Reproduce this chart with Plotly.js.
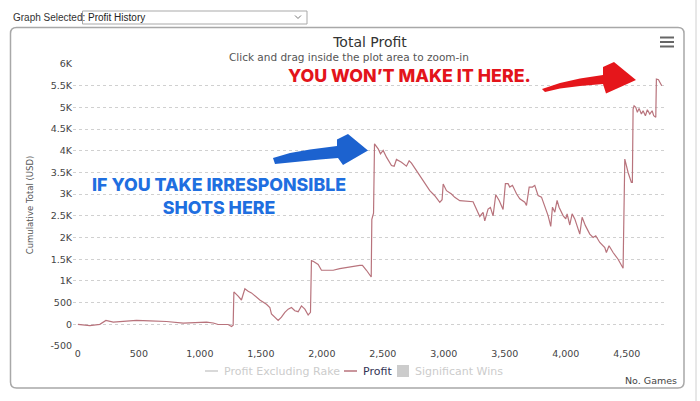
<!DOCTYPE html>
<html>
<head>
<meta charset="utf-8">
<script src="https://cdn.plot.ly/plotly-3.0.1.min.js"></script>
<style>
  html, body { margin: 0; padding: 0; background: #ffffff; }
  #chart { width: 700px; height: 401px; }
</style>
</head>
<body>
<div id="chart"></div>
<script>
// ---------- data ----------
const games = [0, 98, 180, 230, 290, 480, 590, 727, 864, 945, 1055, 1110, 1150, 1232, 1260, 1273,
  1279, 1314, 1341, 1369, 1396, 1423, 1451, 1492, 1546, 1574, 1587, 1615, 1642, 1669, 1697, 1724,
  1751, 1779, 1806, 1833, 1861, 1888, 1907, 1915, 1929, 1970, 1997, 2093, 2147, 2311, 2333, 2366,
  2399, 2405, 2410, 2418, 2424, 2432, 2462, 2481, 2503, 2530, 2571, 2593, 2612, 2653, 2680, 2694,
  2716, 2735, 2776, 2830, 2885, 2926, 2967, 2986, 2995, 3022, 3063, 3090, 3131, 3240, 3281, 3295,
  3322, 3336, 3363, 3382, 3404, 3426, 3454, 3486, 3505, 3527, 3541, 3563, 3596, 3623, 3664, 3678,
  3700, 3727, 3746, 3773, 3801, 3828, 3855, 3877, 3891, 3910, 3929, 3945, 3978, 4000, 4011, 4033,
  4052, 4074, 4115, 4134, 4161, 4197, 4224, 4246, 4279, 4320, 4333, 4355, 4388, 4429, 4470, 4484,
  4511, 4538, 4546, 4552, 4560, 4574, 4587, 4601, 4620, 4634, 4653, 4669, 4689, 4708, 4721, 4738,
  4743, 4760, 4771, 4787];
const profit = [0, -30, 0, 90, 50, 90, 80, 65, 25, 40, 50, 30, -5, -5, -50, -20,
  746, 650, 560, 820, 760, 724, 650, 560, 463, 388, 239, 164, 90, 164, 276, 350,
  388, 313, 291, 425, 350, 216, 276, 1470, 1455, 1380, 1246, 1246, 1284, 1358, 1358, 1246,
  1097, 1090, 2420, 2480, 2560, 4160, 4046, 3930, 4008, 3853, 3660, 3645, 3800, 3737, 3675, 3645,
  3768, 3714, 3544, 3312, 3080, 2964, 2810, 2872, 3235, 3080, 3003, 2926, 2849, 2825, 2578, 2485,
  2578, 2385, 2655, 2694, 2500, 2986, 2854, 2646, 3242, 3242, 3164, 3203, 3009, 2893, 2816, 2738,
  3164, 3164, 3203, 2970, 2932, 2738, 2506, 2258, 2700, 2584, 2854, 2700, 2506, 2429, 2545, 2289,
  2545, 2429, 2080, 2467, 2274, 2080, 2003, 2042, 1887, 1770, 1655, 1810, 1655, 1500, 1291, 3808,
  3500, 3269, 3269, 4962, 5038, 5000, 4885, 4977, 4846, 4923, 4808, 4946, 4846, 4923, 4808, 4770,
  5654, 5638, 5577, 5500];

const xTickVals = [0, 500, 1000, 1500, 2000, 2500, 3000, 3500, 4000, 4500];
const xTickText = ["0", "500", "1,000", "1,500", "2,000", "2,500", "3,000", "3,500", "4,000", "4,500"];
const yTickVals = [-500, 0, 500, 1000, 1500, 2000, 2500, 3000, 3500, 4000, 4500, 5000, 5500, 6000];
const yTickText = ["-500", "0", "500", "1K", "1.5K", "2K", "2.5K", "3K", "3.5K", "4K", "4.5K", "5K", "5.5K", "6K"];

const legendNames = ["Profit Excluding Rake", "Profit", "Significant Wins"];

// ---------- layout helpers (pixel -> paper) ----------
const L = 73, R = 667, T = 64, B = 346;
const fx = p => (p - L) / (R - L);
const fy = p => (B - p) / (B - T);
function poly(pts) {
  return 'M' + pts.map(p => fx(p[0]).toFixed(5) + ',' + fy(p[1]).toFixed(5)).join(' L') + ' Z';
}
function pathOpen(pts) {
  return 'M' + pts.map(p => fx(p[0]).toFixed(5) + ',' + fy(p[1]).toFixed(5)).join(' L');
}
function roundRect(x0, y0, x1, y1, r) {
  const P = (x, y) => fx(x).toFixed(5) + ',' + fy(y).toFixed(5);
  return 'M' + P(x0 + r, y0) + ' L' + P(x1 - r, y0) + ' Q' + P(x1, y0) + ' ' + P(x1, y0 + r) +
    ' L' + P(x1, y1 - r) + ' Q' + P(x1, y1) + ' ' + P(x1 - r, y1) +
    ' L' + P(x0 + r, y1) + ' Q' + P(x0, y1) + ' ' + P(x0, y1 - r) +
    ' L' + P(x0, y0 + r) + ' Q' + P(x0, y0) + ' ' + P(x0 + r, y0) + ' Z';
}

const lineColor = '#b8737c';

const shapes = [
  {type: 'path', xref: 'paper', yref: 'paper', path: roundRect(10.5, 27.5, 684, 388, 6),
   line: {color: '#a8a8a8', width: 1.5}, layer: 'below'},
  {type: 'line', xref: 'paper', yref: 'paper', x0: fx(696), x1: fx(696), y0: fy(0), y1: fy(401),
   line: {color: '#d0d0d0', width: 1}},
  {type: 'rect', xref: 'paper', yref: 'paper', x0: fx(82.5), x1: fx(307), y0: fy(11), y1: fy(24),
   line: {color: '#a9a9a9', width: 1}, fillcolor: '#ffffff'},
  {type: 'path', xref: 'paper', yref: 'paper', path: pathOpen([[295, 15.5], [298, 18.5], [301, 15.5]]),
   line: {color: '#777', width: 1}},
  {type: 'line', xref: 'paper', yref: 'paper', x0: fx(660), x1: fx(674), y0: fy(37.5), y1: fy(37.5), line: {color: '#666', width: 2}},
  {type: 'line', xref: 'paper', yref: 'paper', x0: fx(660), x1: fx(674), y0: fy(42), y1: fy(42), line: {color: '#666', width: 2}},
  {type: 'line', xref: 'paper', yref: 'paper', x0: fx(660), x1: fx(674), y0: fy(46.5), y1: fy(46.5), line: {color: '#666', width: 2}},
  {type: 'path', xref: 'paper', yref: 'paper',
   path: poly([[273, 158], [290, 153], [310, 149.5], [337, 146], [337, 139.5], [348, 134], [368, 150.5],
               [343, 165], [338, 158], [320, 159.5], [300, 161.5], [285, 163], [275, 164]]),
   fillcolor: '#1c62cf', line: {width: 0}},
  {type: 'path', xref: 'paper', yref: 'paper',
   path: poly([[542, 89], [560, 83], [580, 78.5], [603, 75], [603, 67], [614, 62], [636, 80],
               [606, 93.5], [603, 84], [580, 86], [560, 88.5], [545, 92]]),
   fillcolor: '#e5161b', line: {width: 0}},
  {type: 'line', xref: 'paper', yref: 'paper', x0: fx(205), x1: fx(218), y0: fy(371), y1: fy(371), line: {color: '#cccccc', width: 1.5}},
  {type: 'line', xref: 'paper', yref: 'paper', x0: fx(344), x1: fx(357), y0: fy(371), y1: fy(371), line: {color: lineColor, width: 1.5}},
  {type: 'rect', xref: 'paper', yref: 'paper', x0: fx(397), x1: fx(409), y0: fy(365), y1: fy(377), fillcolor: '#cccccc', line: {width: 0}}
];

const ann = (text, x, y, opts) => Object.assign({
  text: text, xref: 'paper', yref: 'paper', x: fx(x), y: fy(y), showarrow: false,
  xanchor: 'center', yanchor: 'middle'}, opts || {});

const annotations = [
  ann('Graph Selected:', 11, 17.5, {xanchor: 'left', font: {family: 'Liberation Sans', size: 10, color: '#333'}}),
  ann('Profit History', 86, 17.5, {xanchor: 'left', font: {family: 'Liberation Sans', size: 10, color: '#222'}}),
  ann('Click and drag inside the plot area to zoom-in', 349, 57, {font: {family: 'DejaVu Sans', size: 10.5, color: '#555'}}),
  ann('YOU WON\u2019T MAKE IT HERE.', 409, 75, {font: {family: 'Inter', size: 17.8, color: '#e3141b', weight: 800}}),
  ann('IF YOU TAKE IRRESPONSIBLE<br>SHOTS HERE', 219, 196, {align: 'center',
      font: {family: 'Inter', size: 17.8, color: '#1f6fe0', weight: 800}}),
  ann(legendNames[0], 222, 371, {xanchor: 'left', font: {family: 'DejaVu Sans', size: 11, color: '#cccccc'}}),
  ann(legendNames[1], 361, 371, {xanchor: 'left', font: {family: 'DejaVu Sans', size: 11, color: '#333355'}}),
  ann(legendNames[2], 413, 371, {xanchor: 'left', font: {family: 'DejaVu Sans', size: 11, color: '#cccccc'}}),
  ann('No. Games', 679, 380, {xanchor: 'right', font: {family: 'DejaVu Sans', size: 9.5, color: '#444'}})
];

const traces = [{
  type: 'scatter', mode: 'lines', name: legendNames[1], x: games, y: profit,
  line: {color: lineColor, width: 1.2}, hoverinfo: 'x+y'
}];

const layout = {
  width: 700, height: 401,
  margin: {l: L, r: 700 - R, t: T, b: 401 - B},
  paper_bgcolor: '#ffffff', plot_bgcolor: '#ffffff',
  showlegend: false,
  font: {family: 'DejaVu Sans', size: 9.5, color: '#444'},
  title: {text: 'Total Profit', x: 0.5, xref: 'paper', y: 1 - 42 / 401, yanchor: 'middle',
          font: {family: 'DejaVu Sans', size: 14, color: '#333'}},
  xaxis: {range: [-40, 4830], tickvals: xTickVals, ticktext: xTickText, showgrid: false,
          zeroline: false, showline: false, ticks: '', tickfont: {size: 9.5, color: '#444'}, fixedrange: true},
  yaxis: {range: [-500, 6000], tickvals: yTickVals, ticktext: yTickText, showgrid: true,
          gridcolor: '#d0d0d0', griddash: 'dot', gridwidth: 1, zeroline: false, showline: false, ticks: '',
          tickfont: {size: 9.5, color: '#444'}, fixedrange: true,
          title: {text: 'Cumulative Total (USD)', standoff: 15, font: {family: 'DejaVu Sans', size: 8.5, color: '#555'}}},
  shapes: shapes,
  annotations: annotations
};

Plotly.newPlot('chart', traces, layout, {displayModeBar: false, staticPlot: false});
</script>
</body>
</html>
